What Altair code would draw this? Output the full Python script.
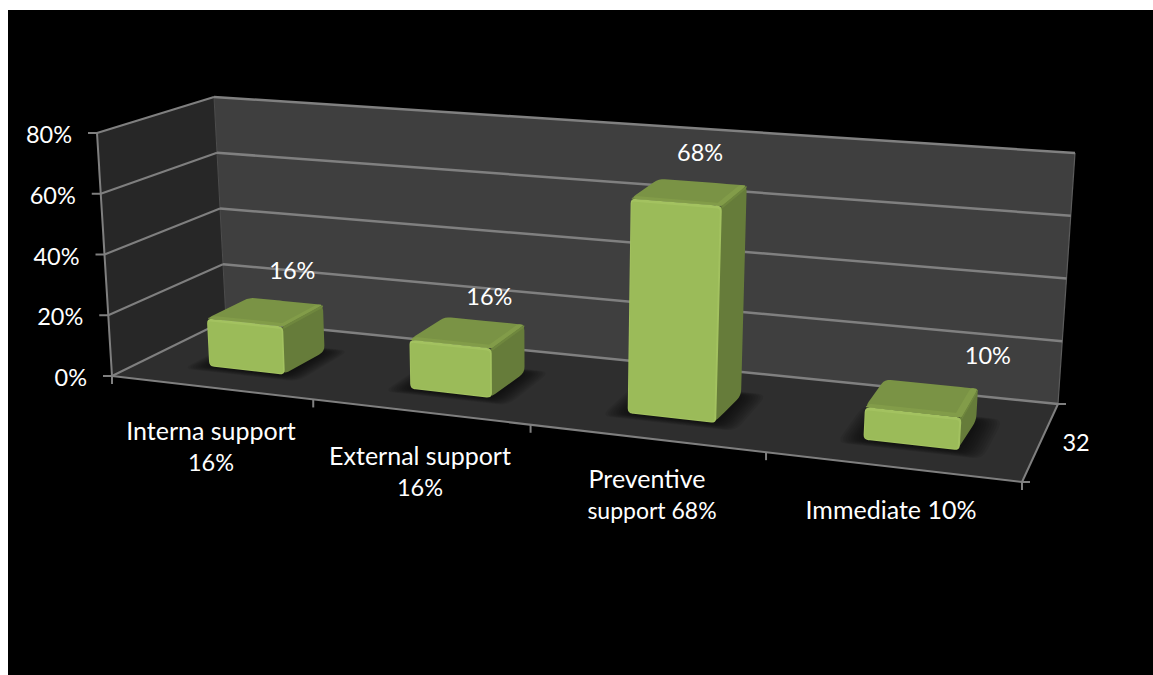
import math
import altair as alt
import pandas as pd

# Chart content
categories = ["Interna support 16%", "External support 16%", "Preventive support 68%", "Immediate 10%"]
values = [16, 16, 68, 10]
value_ticks = [0, 20, 40, 60, 80]
series_name = "32"

# Page and perspective set-up, in pixels
W, H = 1153, 675
PANEL = (8, 10, 1153, 675)
FLOOR = {"fl": (112, 376), "fr": (1022, 482), "bl": (226, 320), "br": (1058, 404)}
CEIL = {"fl": (97, 133), "fr": (1041, 210), "bl": (214, 97), "br": (1075, 153)}
VANISH = 1.174
AXIS_MAX = 80
N = len(categories)
BAR_SPAN = (0.33, 0.715)
BAR_DEPTH = (0.30, 0.69)

FRONT, RIGHT, TOP = "#9bbb59", "#667c3a", "#7a9345"
BEVEL_FRONT, BEVEL_TOP, BEVEL_RIGHT = "#a3c260", "#829c49", "#6f873e"


def lerp(a, b, f):
    return (a[0] + (b[0] - a[0]) * f, a[1] + (b[1] - a[1]) * f)


def project(pos, depth, value):
    """Category position, depth 0-1 and axis value to page pixels."""
    t = pos / N
    u = t / (t + VANISH * (1 - t))
    v = value / AXIS_MAX
    low = lerp(lerp(FLOOR["fl"], FLOOR["fr"], u), lerp(FLOOR["bl"], FLOOR["br"], u), depth)
    high = lerp(lerp(CEIL["fl"], CEIL["fr"], u), lerp(CEIL["bl"], CEIL["br"], u), depth)
    return lerp(low, high, v)


def rounded(points, radius):
    """Replace each corner of a convex polygon by a short curve."""
    out = []
    n = len(points)
    for i, p in enumerate(points):
        a, b = points[i - 1], points[(i + 1) % n]
        la, lb = math.dist(a, p), math.dist(b, p)
        ra, rb = min(radius, la / 2), min(radius, lb / 2)
        s = (p[0] + (a[0] - p[0]) * ra / la, p[1] + (a[1] - p[1]) * ra / la)
        e = (p[0] + (b[0] - p[0]) * rb / lb, p[1] + (b[1] - p[1]) * rb / lb)
        for k in range(5):
            f = k / 4
            out.append(tuple((1 - f) ** 2 * s[c] + 2 * f * (1 - f) * p[c] + f ** 2 * e[c] for c in (0, 1)))
    return out


def area_rows(points, fill, key):
    """Split a convex polygon into top and bottom edges over x, as an area mark needs."""
    rows = []
    for x in sorted({round(p[0], 2) for p in points}):
        ys = []
        for i, a in enumerate(points):
            b = points[(i + 1) % len(points)]
            lo, hi = sorted((a[0], b[0]))
            if lo - 0.01 <= x <= hi + 0.01:
                if abs(b[0] - a[0]) < 0.01:
                    ys += [a[1], b[1]]
                else:
                    ys.append(a[1] + (b[1] - a[1]) * (x - a[0]) / (b[0] - a[0]))
        rows.append({"x": x, "y": min(ys), "y2": max(ys), "fill": fill, "poly": key})
    return rows


under_rows, over_rows = [], []
poly_count = 0


def add(target, points, fill, radius=0):
    global poly_count
    pts = rounded(points, radius) if radius else points
    target.extend(area_rows(pts, fill, f"p{poly_count:05d}"))
    poly_count += 1


# Walls and floor
add(under_rows, [project(0, 0, 0), project(0, 1, 0), project(0, 1, AXIS_MAX), project(0, 0, AXIS_MAX)], "#272727")
add(under_rows, [project(0, 1, 0), project(N, 1, 0), project(N, 1, AXIS_MAX), project(0, 1, AXIS_MAX)], "#3f3f3f")
add(under_rows, [project(0, 0, 0), project(N, 0, 0), project(N, 1, 0), project(0, 1, 0)], "#2e2e2e")

# Soft shadows on the floor, and the bars drawn from their values
for i, value in enumerate(values):
    t0, t1 = i + BAR_SPAN[0], i + BAR_SPAN[1]
    d0, d1 = BAR_DEPTH
    for step in range(10, 0, -1):
        e = step * 0.0085
        add(over_rows, [project(t0 - e * 1.1, d0 - e * 0.9, 0), project(t1 + e * 1.2, d0 - e * 0.9, 0),
                        project(t1 + e * 1.2, d1 + e * 0.6, 0), project(t0 - e * 1.1, d1 + e * 0.6, 0)],
            "rgba(0,0,0,0.075)", 10)

    bt, bd, bh = 0.02, 0.05, 0.9
    add(over_rows, [project(t1 - 0.01, d0, 0), project(t1, d1, 0), project(t1, d1, value), project(t1 - 0.01, d0, value)], RIGHT, 6)
    add(over_rows, [project(t0, d0, value), project(t1, d0, value), project(t1, d1, value), project(t0, d1, value)], TOP, 6)
    # lit edges of the top and side faces
    add(over_rows, [project(t0, d0, value), project(t1, d0, value), project(t1, d0 + bd, value), project(t0 + 0.01, d0 + bd, value)], BEVEL_TOP, 2)
    add(over_rows, [project(t1 - 1.5 * bt, d0, value), project(t1, d0, value), project(t1, d1, value), project(t1 - 1.5 * bt, d1, value)], BEVEL_TOP, 3)
    add(over_rows, [project(t1, d0, value), project(t1, d1, value), project(t1, d1, value - bh), project(t1, d0, value - bh)], BEVEL_RIGHT, 2)
    # front face and its lit rim
    add(over_rows, [project(t0, d0, 0), project(t1, d0, 0), project(t1, d0, value), project(t0, d0, value)], BEVEL_FRONT, 5)
    add(over_rows, [project(t0 + bt * 0.2, d0, bh * 0.4), project(t1 - bt * 0.4, d0, bh * 0.4),
                    project(t1 - bt * 0.4, d0, value - bh), project(t0 + bt * 0.2, d0, value - bh)], FRONT, 3)

# Lines
lines = []


def line(a, b, color, width):
    lines.append({"x": a[0], "y": a[1], "x2": b[0], "y2": b[1], "color": color, "w": width})


AXIS_GREY, GRID_GREY = "#7f7f7f", "#808080"
line(project(0, 1, 0), project(0, 1, AXIS_MAX), "#4d4d4d", 1)
line(project(N, 1, 0), project(N, 1, AXIS_MAX), "#5c5c5c", 1.2)
for tick in value_ticks:
    line(project(0, 0, tick), project(0, 1, tick), AXIS_GREY, 2)
    line(project(0, 1, tick), project(N, 1, tick), GRID_GREY, 2.5)
    p = project(0, 0, tick)
    line((p[0] - 9, p[1]), p, AXIS_GREY, 2)
line(project(0, 0, 0), project(0, 0, AXIS_MAX), AXIS_GREY, 2)
line(project(0, 0, 0), project(N, 0, 0), AXIS_GREY, 2)
line(project(N, 0, 0), project(N, 1, 0), AXIS_GREY, 2)
for i in range(N + 1):
    p = project(i, 0, 0)
    line(p, (p[0], p[1] + 8), AXIS_GREY, 2)
for depth in (0, 1):
    p = project(N, depth, 0)
    line(p, (p[0] + 8, p[1]), AXIS_GREY, 2)

# Text: axis labels, category labels in wrapped lines, value labels above each bar
texts = []


def text(s, x, y, align="center", size=23.5):
    texts.append({"x": x, "y": y, "text": s, "align": align, "size": size})


for tick in value_ticks:
    p = project(0, 0, tick)
    text(f"{tick}%", p[0] - 25 if tick else 87, p[1] + 3, "right")

wrapped = [
    [("Interna support", 211, 432, 25), ("16%", 211, 464, 23.5)],
    [("External support", 420, 457, 25), ("16%", 420, 489, 23.5)],
    [("Preventive", 647, 480, 25), ("support 68%", 652, 512, 23)],
    [("Immediate 10%", 891, 511, 25)],
]
for parts in wrapped:
    for part, x, y, size in parts:
        text(part, x, y, size=size)

label_dx = [27, 22, 11, 66]
label_dy = [0, 6, 2, -1]
for i, value in enumerate(values):
    p = project(i + sum(BAR_SPAN) / 2, sum(BAR_DEPTH) / 2, value)
    text(f"{value}%", p[0] + label_dx[i], p[1] - 40 + label_dy[i])
text(series_name, 1076, 444)

x_scale = alt.Scale(domain=[0, W], nice=False, zero=False)
y_scale = alt.Scale(domain=[H, 0], nice=False, zero=False)
X = alt.X("x:Q", scale=x_scale, axis=None)
Y = alt.Y("y:Q", scale=y_scale, axis=None)

panel = alt.Chart(pd.DataFrame([{"x": PANEL[0], "x2": PANEL[2], "y": PANEL[1], "y2": PANEL[3]}])).mark_rect(
    color="#000000"
).encode(x=X, x2="x2:Q", y=Y, y2="y2:Q")


def surfaces(rows):
    return alt.Chart(pd.DataFrame(rows)).mark_area(interpolate="linear").encode(
        x=X, y=Y, y2="y2:Q", detail="poly:N", color=alt.Color("fill:N", scale=None)
    )


frame_lines = alt.Chart(pd.DataFrame(lines)).mark_rule().encode(
    x=X, x2="x2:Q", y=Y, y2="y2:Q",
    color=alt.Color("color:N", scale=None),
    strokeWidth=alt.StrokeWidth("w:Q", scale=None),
)

text_df = pd.DataFrame(texts)
labels = []
for align in ("center", "right"):
    labels.append(
        alt.Chart(text_df[text_df["align"] == align]).mark_text(
            font="Lato", color="#ffffff", align=align, baseline="middle"
        ).encode(x=X, y=Y, text="text:N", size=alt.Size("size:Q", scale=None))
    )

# Grid and axis lines lie on the walls, under the bars and their shadows
chart = alt.layer(panel, surfaces(under_rows), frame_lines, surfaces(over_rows), *labels).properties(
    width=W, height=H, padding=0, background="#ffffff",
    autosize=alt.AutoSizeParams(type="none"),
).configure_view(strokeWidth=0)

chart.save("out.html", embed_options={"renderer": "svg", "actions": False})
